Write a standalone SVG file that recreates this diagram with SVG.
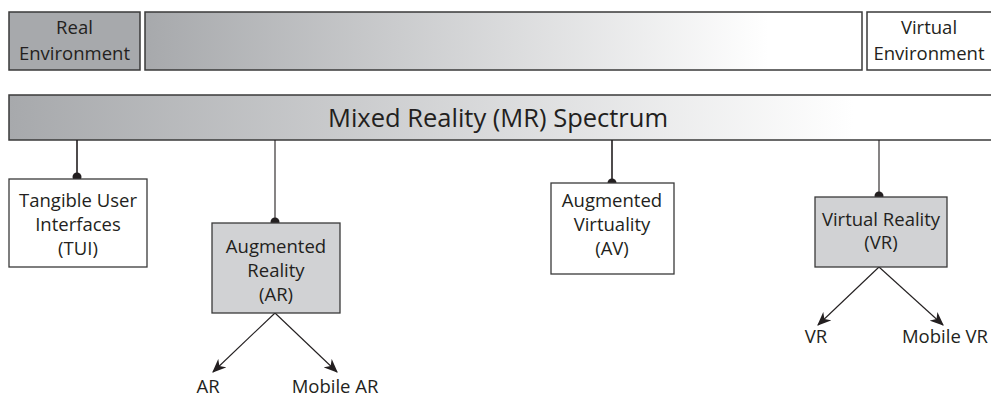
<svg xmlns="http://www.w3.org/2000/svg" width="991" height="399" viewBox="0 0 991 399">
  <style>
    .bar { stroke: #3a3a3a; stroke-width: 1.5; }
    .box { stroke: #3a3a3a; stroke-width: 1.3; }
    .white { fill: #ffffff; }
    .grey { fill: #d1d2d4; }
    .label { font-family: "Open Sans", "Noto Sans", sans-serif; font-size: 18.5px; fill: #231f20; text-anchor: middle; }
    .title { font-family: "Open Sans", "Noto Sans", sans-serif; font-size: 25.5px; fill: #231f20; text-anchor: middle; }
    .link { stroke: #231f20; stroke-width: 1.6; fill: none; }
    .thin { stroke: #231f20; stroke-width: 1.1; fill: none; }
  </style>
  <defs>
    <linearGradient id="fadeTop" x1="145" y1="0" x2="862" y2="0" gradientUnits="userSpaceOnUse">
      <stop offset="0" stop-color="#a7a9ac"/>
      <stop offset="0.87" stop-color="#ffffff"/>
      <stop offset="1" stop-color="#ffffff"/>
    </linearGradient>
    <linearGradient id="fadeBar" x1="9" y1="0" x2="991" y2="0" gradientUnits="userSpaceOnUse">
      <stop offset="0" stop-color="#a7a9ac"/>
      <stop offset="0.86" stop-color="#ffffff"/>
      <stop offset="1" stop-color="#ffffff"/>
    </linearGradient>
    <marker id="arrow" viewBox="0 0 12 10" refX="11" refY="5" markerWidth="14" markerHeight="12" markerUnits="userSpaceOnUse" orient="auto">
      <path d="M0,0 L12,5 L0,10 L3.5,5 Z" fill="#231f20"/>
    </marker>
  </defs>

  <!-- top scale: real to virtual -->
  <g id="real-env">
    <rect class="bar" x="9" y="12" width="131" height="58" fill="#a7a9ac"/>
    <text class="label" x="74.5" y="34">Real</text>
    <text class="label" x="74.5" y="60">Environment</text>
  </g>
  <g id="continuum">
    <rect class="bar" x="145" y="12" width="717" height="58" fill="url(#fadeTop)"/>
  </g>
  <g id="virtual-env">
    <rect class="bar" x="867" y="12" width="130" height="58" fill="#ffffff"/>
    <text class="label" x="929" y="34">Virtual</text>
    <text class="label" x="929" y="60">Environment</text>
  </g>

  <!-- spectrum bar -->
  <g id="spectrum">
    <rect class="bar" x="9" y="95" width="990" height="45" fill="url(#fadeBar)"/>
    <text class="title" x="498" y="127">Mixed Reality (MR) Spectrum</text>
  </g>

  <!-- connectors -->
  <g id="connectors">
    <line class="link" x1="77" y1="140" x2="77" y2="177"/>
    <circle cx="77" cy="177" r="4.5" fill="#231f20"/>
    <line class="thin" x1="275" y1="140" x2="275" y2="222"/>
    <circle cx="275" cy="222" r="4.5" fill="#231f20"/>
    <line class="link" x1="612" y1="140" x2="612" y2="183"/>
    <circle cx="612" cy="183" r="4.5" fill="#231f20"/>
    <line class="thin" x1="879" y1="140" x2="879" y2="196"/>
    <circle cx="879" cy="196" r="4.5" fill="#231f20"/>

    <line class="thin" x1="275" y1="313" x2="213" y2="372" marker-end="url(#arrow)"/>
    <line class="thin" x1="275" y1="313" x2="337" y2="372" marker-end="url(#arrow)"/>
    <line class="thin" x1="879" y1="267" x2="818" y2="325" marker-end="url(#arrow)"/>
    <line class="thin" x1="879" y1="267" x2="943" y2="325" marker-end="url(#arrow)"/>
  </g>

  <!-- category nodes -->
  <g id="tui">
    <rect class="box white" x="9" y="179" width="138" height="88"/>
    <text class="label" x="78" y="207">Tangible User</text>
    <text class="label" x="78" y="231">Interfaces</text>
    <text class="label" x="78" y="255">(TUI)</text>
  </g>
  <g id="ar">
    <rect class="box grey" x="212" y="223" width="128" height="90"/>
    <text class="label" x="276" y="253">Augmented</text>
    <text class="label" x="276" y="277">Reality</text>
    <text class="label" x="276" y="301">(AR)</text>
  </g>
  <g id="av">
    <rect class="box white" x="551" y="183" width="123" height="91"/>
    <text class="label" x="612" y="207">Augmented</text>
    <text class="label" x="612" y="231">Virtuality</text>
    <text class="label" x="612" y="255">(AV)</text>
  </g>
  <g id="vr">
    <rect class="box grey" x="815" y="197" width="132" height="70"/>
    <text class="label" x="881" y="226">Virtual Reality</text>
    <text class="label" x="881" y="249">(VR)</text>
  </g>

  <!-- leaf labels -->
  <g id="ar-desktop"><text class="label" x="208" y="393">AR</text></g>
  <g id="ar-mobile"><text class="label" x="335" y="393">Mobile AR</text></g>
  <g id="vr-desktop"><text class="label" x="816" y="343">VR</text></g>
  <g id="vr-mobile"><text class="label" x="945" y="343">Mobile VR</text></g>
</svg>
